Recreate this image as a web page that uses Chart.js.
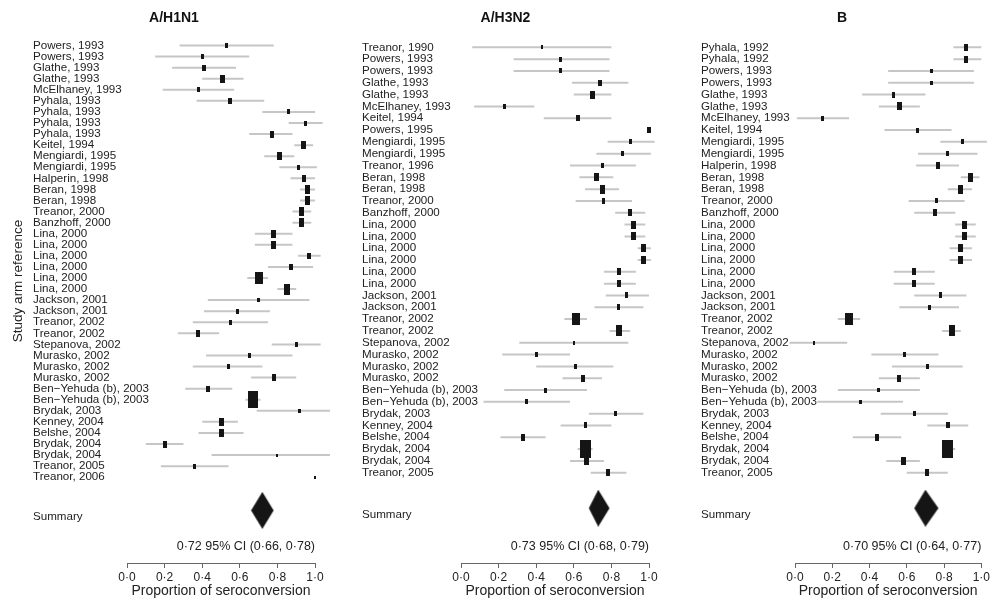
<!DOCTYPE html>
<html>
<head>
<meta charset="utf-8">
<script src="https://cdn.jsdelivr.net/npm/chart.js@4.4.1/dist/chart.umd.min.js"></script>
<style>
  html, body { margin: 0; padding: 0; background: #fff; overflow: hidden; }
  #wrap { position: relative; width: 992px; height: 601px; }
  canvas { position: absolute; top: 0; }
</style>
</head>
<body>
<div id="wrap">
  <canvas id="h1n1" width="340" height="601" style="left:0"></canvas>
  <canvas id="h3n2" width="335" height="601" style="left:340px"></canvas>
  <canvas id="fluB" width="317" height="601" style="left:675px"></canvas>
</div>
<script>
// --- data ---
const h1n1Labels = ["Powers, 1993", "Powers, 1993", "Glathe, 1993", "Glathe, 1993", "McElhaney, 1993",
  "Pyhala, 1993", "Pyhala, 1993", "Pyhala, 1993", "Pyhala, 1993", "Keitel, 1994",
  "Mengiardi, 1995", "Mengiardi, 1995", "Halperin, 1998", "Beran, 1998", "Beran, 1998",
  "Treanor, 2000", "Banzhoff, 2000", "Lina, 2000", "Lina, 2000", "Lina, 2000",
  "Lina, 2000", "Lina, 2000", "Lina, 2000", "Jackson, 2001", "Jackson, 2001",
  "Treanor, 2002", "Treanor, 2002", "Stepanova, 2002", "Murasko, 2002", "Murasko, 2002",
  "Murasko, 2002", "Ben\u2212Yehuda (b), 2003", "Ben\u2212Yehuda (b), 2003", "Brydak, 2003", "Kenney, 2004",
  "Belshe, 2004", "Brydak, 2004", "Brydak, 2004", "Treanor, 2005", "Treanor, 2006"];
const h1n1Est = [0.53, 0.40, 0.41, 0.51, 0.38, 0.55, 0.86, 0.95, 0.77, 0.94, 0.81, 0.91, 0.94, 0.96, 0.96, 0.93, 0.93, 0.78, 0.78, 0.97,
  0.87, 0.70, 0.85, 0.70, 0.59, 0.55, 0.38, 0.90, 0.65, 0.54, 0.78, 0.43, 0.67, 0.92, 0.50, 0.50, 0.20, 0.80, 0.36, 1.00];
const h1n1Lo = [0.28, 0.15, 0.24, 0.40, 0.19, 0.37, 0.72, 0.86, 0.65, 0.89, 0.73, 0.81, 0.87, 0.92, 0.92, 0.88, 0.88, 0.68, 0.68, 0.91,
  0.75, 0.64, 0.80, 0.43, 0.41, 0.35, 0.27, 0.77, 0.42, 0.35, 0.66, 0.31, 0.63, 0.69, 0.40, 0.38, 0.10, 0.45, 0.18, 1.00];
const h1n1Hi = [0.78, 0.65, 0.58, 0.62, 0.57, 0.73, 1.00, 1.04, 0.88, 0.99, 0.89, 1.01, 1.00, 1.00, 1.00, 0.98, 0.98, 0.88, 0.88, 1.03,
  0.99, 0.75, 0.90, 0.97, 0.76, 0.75, 0.49, 1.03, 0.88, 0.72, 0.90, 0.56, 0.71, 1.08, 0.59, 0.62, 0.30, 1.08, 0.54, 1.00];
const h1n1Weight = [1.5, 1.5, 2, 3.5, 1.5, 2, 1.5, 1.5, 2.5, 4, 4, 1.5, 3, 4.5, 4.5, 4.5, 4.5, 3.5, 3.5, 2,
  2, 9, 6.5, 1, 1.5, 1.5, 2.5, 1.2, 1.2, 1.5, 2.5, 2, 16, 1, 3.5, 3.5, 3, 0.6, 1.5, 0.4];

const h3n2Labels = ["Treanor, 1990", "Powers, 1993", "Powers, 1993", "Glathe, 1993", "Glathe, 1993",
  "McElhaney, 1993", "Keitel, 1994", "Powers, 1995", "Mengiardi, 1995", "Mengiardi, 1995",
  "Treanor, 1996", "Beran, 1998", "Beran, 1998", "Treanor, 2000", "Banzhoff, 2000",
  "Lina, 2000", "Lina, 2000", "Lina, 2000", "Lina, 2000", "Lina, 2000",
  "Lina, 2000", "Jackson, 2001", "Jackson, 2001", "Treanor, 2002", "Treanor, 2002",
  "Stepanova, 2002", "Murasko, 2002", "Murasko, 2002", "Murasko, 2002", "Ben\u2212Yehuda (b), 2003",
  "Ben\u2212Yehuda (b), 2003", "Brydak, 2003", "Kenney, 2004", "Belshe, 2004", "Brydak, 2004",
  "Brydak, 2004", "Treanor, 2005"];
const h3n2Est = [0.43, 0.53, 0.53, 0.74, 0.70, 0.23, 0.62, 1.00, 0.90, 0.86, 0.75, 0.72, 0.75, 0.76, 0.90, 0.92, 0.92, 0.97, 0.97, 0.84,
  0.84, 0.88, 0.84, 0.61, 0.84, 0.60, 0.40, 0.61, 0.65, 0.45, 0.35, 0.82, 0.66, 0.33, 0.66, 0.67, 0.78];
const h3n2Lo = [0.06, 0.28, 0.28, 0.59, 0.60, 0.07, 0.44, 1.00, 0.78, 0.72, 0.58, 0.63, 0.66, 0.61, 0.82, 0.87, 0.87, 0.94, 0.94, 0.76,
  0.76, 0.77, 0.71, 0.55, 0.79, 0.31, 0.22, 0.40, 0.54, 0.23, 0.12, 0.68, 0.53, 0.21, 0.62, 0.58, 0.69];
const h3n2Hi = [0.80, 0.79, 0.79, 0.89, 0.80, 0.39, 0.80, 1.00, 1.03, 1.01, 0.93, 0.81, 0.84, 0.91, 0.98, 0.98, 0.98, 1.01, 1.01, 0.93,
  0.93, 1.00, 0.97, 0.67, 0.90, 0.89, 0.58, 0.81, 0.75, 0.67, 0.58, 0.97, 0.80, 0.45, 0.70, 0.76, 0.88];
const h3n2Weight = [0.8, 1.2, 1.2, 2, 3.5, 1.5, 2, 2, 1.5, 1.5, 1.5, 4, 4.5, 1.8, 2.8, 4, 4, 4, 4, 3,
  3, 1.8, 1.8, 9, 6.5, 0.8, 1.5, 1.5, 3, 1.2, 1.2, 1.5, 1.8, 2.5, 18, 4.5, 2.8];

const bLabels = ["Pyhala, 1992", "Pyhala, 1992", "Powers, 1993", "Powers, 1993", "Glathe, 1993",
  "Glathe, 1993", "McElhaney, 1993", "Keitel, 1994", "Mengiardi, 1995", "Mengiardi, 1995",
  "Halperin, 1998", "Beran, 1998", "Beran, 1998", "Treanor, 2000", "Banzhoff, 2000",
  "Lina, 2000", "Lina, 2000", "Lina, 2000", "Lina, 2000", "Lina, 2000",
  "Lina, 2000", "Jackson, 2001", "Jackson, 2001", "Treanor, 2002", "Treanor, 2002",
  "Stepanova, 2002", "Murasko, 2002", "Murasko, 2002", "Murasko, 2002", "Ben\u2212Yehuda (b), 2003",
  "Ben\u2212Yehuda (b), 2003", "Brydak, 2003", "Kenney, 2004", "Belshe, 2004", "Brydak, 2004",
  "Brydak, 2004", "Treanor, 2005"];
const bEst = [0.92, 0.92, 0.73, 0.73, 0.53, 0.56, 0.15, 0.66, 0.90, 0.82, 0.77, 0.94, 0.89, 0.76, 0.75, 0.91, 0.91, 0.89, 0.89, 0.64,
  0.64, 0.78, 0.72, 0.29, 0.84, 0.10, 0.59, 0.71, 0.56, 0.45, 0.35, 0.64, 0.82, 0.44, 0.82, 0.58, 0.71];
const bLo = [0.85, 0.85, 0.50, 0.50, 0.36, 0.45, 0.01, 0.48, 0.78, 0.66, 0.65, 0.89, 0.82, 0.61, 0.64, 0.86, 0.86, 0.83, 0.83, 0.53,
  0.53, 0.64, 0.56, 0.23, 0.79, -0.03, 0.41, 0.52, 0.45, 0.23, 0.12, 0.46, 0.71, 0.31, 0.79, 0.49, 0.60];
const bHi = [1.00, 1.00, 0.96, 0.96, 0.70, 0.67, 0.29, 0.84, 1.03, 0.98, 0.88, 0.99, 0.95, 0.91, 0.86, 0.97, 0.97, 0.95, 0.95, 0.75,
  0.75, 0.92, 0.88, 0.35, 0.89, 0.28, 0.77, 0.90, 0.67, 0.67, 0.58, 0.82, 0.93, 0.57, 0.86, 0.67, 0.82];
const bWeight = [2.8, 2.8, 1, 1, 1.8, 3.5, 1.5, 1.5, 1.2, 1.5, 2.5, 4.5, 4.5, 1.5, 2.5, 4, 4, 4, 4, 2.8,
  2.8, 1.8, 1.5, 9, 6.5, 0.8, 1.5, 1.2, 2.8, 1, 1, 1.5, 2, 2.5, 18, 4, 2.5];

const panelTitles = ["A/H1N1", "A/H3N2", "B"];
const summaryEst = [0.72, 0.73, 0.70];
const summaryLo = [0.66, 0.68, 0.64];
const summaryHi = [0.78, 0.79, 0.77];
const xTicks = [0, 0.2, 0.4, 0.6, 0.8, 1.0];

Chart.defaults.font.family = "'Liberation Sans', Arial, Helvetica, sans-serif";
Chart.defaults.color = '#222';

const dot = (v, d) => v.toFixed(d).replace('.', '\u00b7');

// black study box, area ~ weight, a bit taller than wide like the original
function boxImage(weight) {
  const w = Math.max(1.5, 2.5 * Math.sqrt(weight));
  const c = document.createElement('canvas');
  c.width = Math.max(2, Math.round(w));
  c.height = Math.max(2, Math.round(w * 1.65));
  const g = c.getContext('2d');
  g.fillStyle = '#151515';
  g.fillRect(0, 0, c.width, c.height);
  return c;
}

function diamondImage(chart, est, lo, hi) {
  const x = chart.scales.x;
  const left = x.getPixelForValue(est) - x.getPixelForValue(lo);
  const right = x.getPixelForValue(hi) - x.getPixelForValue(est);
  if (!isFinite(left) || !isFinite(right) || left <= 0) return 'rectRot';
  const half = Math.ceil(Math.max(left, right));
  const h = 37;
  const c = document.createElement('canvas');
  c.width = half * 2;
  c.height = h;
  const g = c.getContext('2d');
  g.fillStyle = '#151515';
  g.beginPath();
  g.moveTo(half - left, h / 2);
  g.lineTo(half, 0);
  g.lineTo(half + right, h / 2);
  g.lineTo(half, h);
  g.closePath();
  g.fill();
  return c;
}

const notes = {
  id: 'notes',
  // study labels are allowed to run past the narrow label column, as in the original
  afterLayout(chart) {
    chart.scales.y.right = chart.width;
  },
  afterDraw(chart, args, opts) {
    const {ctx, chartArea, scales} = chart;
    ctx.save();
    ctx.fillStyle = '#222';
    ctx.textBaseline = 'middle';
    ctx.font = "12.5px 'Liberation Sans', Arial, sans-serif";
    ctx.textAlign = 'right';
    ctx.fillText(opts.ciText, scales.x.getPixelForValue(1), chartArea.bottom - 16);
    if (opts.yTitle) {
      ctx.translate(18, 281);
      ctx.rotate(-Math.PI / 2);
      ctx.textAlign = 'center';
      ctx.font = "13.5px 'Liberation Sans', Arial, sans-serif";
      ctx.fillText(opts.yTitle, 0, 0);
    }
    ctx.restore();
  }
};

function drawPanel(id, p, labels, est, lo, hi, weight, layout) {
  const n = labels.length;
  const boxes = est.map((v, i) => ({x: v, y: i}));
  const ciLines = [];
  lo.forEach((v, i) => {
    ciLines.push({x: v, y: i}, {x: hi[i], y: i}, {x: NaN, y: NaN});
  });
  const diamondRow = n + 2;
  const summaryRow = n + 2.55;

  new Chart(document.getElementById(id), {
    type: 'scatter',
    data: {
      datasets: [
        {
          data: boxes,
          pointStyle: c => boxImage(weight[c.dataIndex]),
          pointRadius: 3,
          order: 1,
          clip: false
        },
        {
          data: ciLines,
          showLine: true,
          spanGaps: false,
          borderColor: '#c6c6c6',
          borderWidth: 2,
          pointRadius: 0,
          order: 2,
          clip: false
        },
        {
          data: [{x: summaryEst[p], y: diamondRow}],
          pointStyle: c => diamondImage(c.chart, summaryEst[p], summaryLo[p], summaryHi[p]),
          pointRadius: 3,
          order: 0,
          clip: false
        }
      ]
    },
    options: {
      responsive: false,
      animation: false,
      events: [],
      layout: {autoPadding: false, padding: {left: layout.left, right: layout.right, top: 0, bottom: 0}},
      plugins: {
        legend: {display: false},
        tooltip: {enabled: false},
        title: {
          display: true,
          text: panelTitles[p],
          color: '#111',
          font: {size: 14, weight: 'bold'},
          padding: {top: 10, bottom: 6}
        },
        notes: {
          ciText: `${dot(summaryEst[p], 2)} 95% CI (${dot(summaryLo[p], 2)}, ${dot(summaryHi[p], 2)})`,
          yTitle: layout.yTitle
        }
      },
      scales: {
        x: {
          type: 'linear',
          min: 0,
          max: 1,
          afterBuildTicks: s => { s.ticks = xTicks.map(v => ({value: v})); },
          afterFit: s => { s.height = 38; },
          ticks: {
            callback: v => dot(v, 1),
            font: {size: 12},
            color: '#222',
            padding: 2,
            maxRotation: 0
          },
          grid: {drawOnChartArea: false, drawTicks: true, tickLength: 5, color: '#666'},
          border: {display: true, color: '#666', width: 1},
          title: {
            display: true,
            text: 'Proportion of seroconversion',
            font: {size: 14},
            color: '#222',
            padding: {top: 0, bottom: 1}
          }
        },
        y: {
          type: 'linear',
          reverse: true,
          min: layout.yMin,
          max: layout.yMax,
          afterBuildTicks: s => {
            s.ticks = labels.map((_, i) => ({value: i})).concat([{value: summaryRow}]);
          },
          afterFit: s => { s.width = layout.axisWidth; },
          ticks: {
            autoSkip: false,
            crossAlign: 'far',
            padding: 0,
            font: {size: 11.6},
            color: '#222',
            callback: (v, i) => (i < n ? labels[i] : 'Summary')
          },
          grid: {display: false},
          border: {display: false}
        }
      }
    },
    plugins: [notes]
  });
}

drawPanel('h1n1', 0, h1n1Labels, h1n1Est, h1n1Lo, h1n1Hi, h1n1Weight,
  {left: 33, right: 25, axisWidth: 94, yMin: -1.15, yMax: 46.75, yTitle: 'Study arm reference'});
drawPanel('h3n2', 1, h3n2Labels, h3n2Est, h3n2Lo, h3n2Hi, h3n2Weight,
  {left: 22, right: 26, axisWidth: 99, yMin: -1.23, yMax: 43.64});
drawPanel('fluB', 2, bLabels, bEst, bLo, bHi, bWeight,
  {left: 26, right: 9, axisWidth: 94, yMin: -1.23, yMax: 43.64});
</script>
</body>
</html>
